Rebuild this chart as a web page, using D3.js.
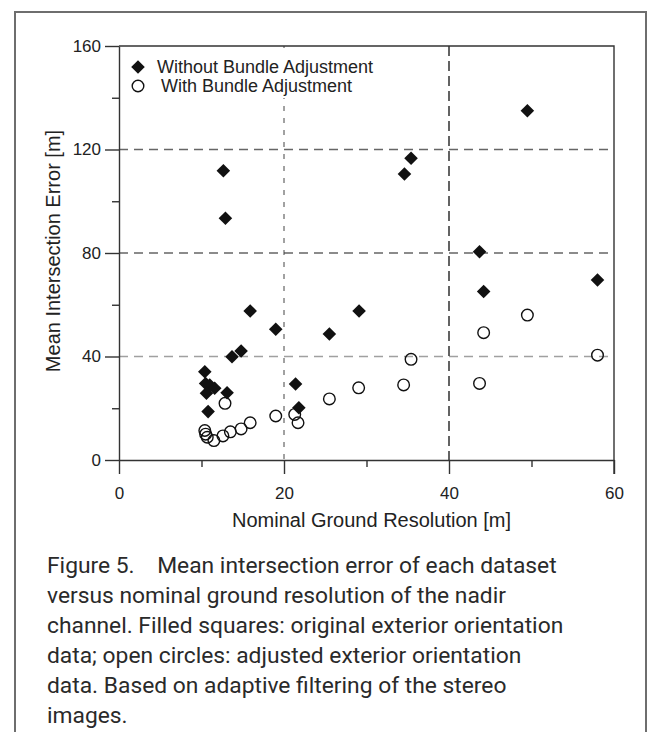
<!DOCTYPE html>
<html>
<head>
<meta charset="utf-8">
<script src="https://cdn.jsdelivr.net/npm/d3@7"></script>
<style>
  body { margin: 0; background: #fff; }
  svg { display: block; }
</style>
</head>
<body>
<svg id="chart"></svg>
<script>
// nominal ground resolution [m] / mean intersection error [m]
const withoutX = [10.4, 10.5, 11.0, 11.6, 10.6, 13.1, 10.8, 13.7, 14.8, 15.9, 19.0, 12.65, 12.9, 21.4, 21.8, 25.5, 29.1, 34.6, 35.4, 43.7, 44.2, 49.5, 58.0];
const withoutY = [34.1, 29.6, 29.0, 27.7, 25.8, 26.0, 18.7, 39.9, 42.1, 57.6, 50.5, 111.8, 93.4, 29.4, 20.2, 48.7, 57.6, 110.5, 116.6, 80.5, 65.1, 135.0, 69.6];
const withX = [12.85, 10.4, 10.5, 10.7, 11.5, 12.6, 13.5, 14.8, 15.9, 19.0, 21.3, 21.7, 25.5, 29.05, 34.5, 35.4, 43.7, 44.2, 49.5, 58.0];
const withY = [21.9, 11.4, 10.0, 8.8, 7.5, 9.3, 10.9, 12.0, 14.4, 17.0, 17.6, 14.4, 23.6, 27.9, 29.0, 38.9, 29.6, 49.2, 56.0, 40.5];
const xMajor = [0, 20, 40, 60];
const xMinor = [10, 30, 50];
const yMajor = [0, 40, 80, 120, 160];
const yMinor = [20, 60, 100, 140];
const legendLabels = ['Without Bundle Adjustment', 'With Bundle Adjustment'];
const caption = [
  'Figure 5.\u00a0\u00a0\u00a0 Mean intersection error of each dataset',
  'versus nominal ground resolution of the nadir',
  'channel. Filled squares: original exterior orientation',
  'data; open circles: adjusted exterior orientation',
  'data. Based on adaptive filtering of the stereo',
  'images.'
];

const W = 648, H = 732;
const svg = d3.select('#chart').attr('width', W).attr('height', H);
const font = 'Arial, "Liberation Sans", sans-serif';

// outer frame
svg.append('path')
  .attr('d', `M15,${H} V12 H646 V${H}`)
  .attr('fill', 'none').attr('stroke', '#6e6e6e').attr('stroke-width', 2);

const x = d3.scaleLinear().domain([0, 60]).range([119, 614]);
const y = d3.scaleLinear().domain([0, 160]).range([460, 46]);

// grid
svg.append('g').selectAll('line').data([40, 80, 120]).enter().append('line')
  .attr('x1', x(0)).attr('x2', x(60)).attr('y1', d => y(d)).attr('y2', d => y(d))
  .attr('stroke', d => d === 40 ? '#a0a0a0' : '#666').attr('stroke-width', 1.3)
  .attr('stroke-dasharray', '9,6');
svg.append('line')
  .attr('x1', x(20)).attr('x2', x(20)).attr('y1', y(160)).attr('y2', y(0))
  .attr('stroke', '#444').attr('stroke-width', 1).attr('stroke-dasharray', '5,7');
svg.append('line')
  .attr('x1', x(40)).attr('x2', x(40)).attr('y1', y(160)).attr('y2', y(0))
  .attr('stroke', '#222').attr('stroke-width', 1.4).attr('stroke-dasharray', '10,5');

// legend background hides the grid behind it
svg.append('rect').attr('x', x(0) + 2).attr('y', y(160) + 2).attr('width', 318).attr('height', 50).attr('fill', '#fff');

// points
const diamond = d3.symbol().type(d3.symbolSquare).size(92);
svg.append('g').selectAll('path').data(withoutX).enter().append('path')
  .attr('d', diamond)
  .attr('transform', (d, i) => `translate(${x(d)},${y(withoutY[i])}) rotate(45)`)
  .attr('fill', '#111');
svg.append('g').selectAll('circle').data(withX).enter().append('circle')
  .attr('cx', d => x(d)).attr('cy', (d, i) => y(withY[i])).attr('r', 5.8)
  .attr('fill', 'none').attr('stroke', '#111').attr('stroke-width', 1.4);

// axes
const axisStyle = g => {
  g.selectAll('path, line').attr('stroke', '#333').attr('stroke-width', 1.4);
  g.selectAll('text').attr('font-family', font).attr('font-size', 17).attr('fill', '#222');
};
svg.append('g').attr('transform', `translate(0,${y(0)})`)
  .call(d3.axisBottom(x).tickValues(xMajor).tickSize(14).tickSizeOuter(0).tickPadding(13).tickFormat(d3.format('d')))
  .call(axisStyle);
svg.append('g').attr('transform', `translate(0,${y(0)})`)
  .call(d3.axisBottom(x).tickValues(xMinor).tickSize(7).tickFormat(''))
  .call(axisStyle).select('.domain').remove();
svg.append('g').attr('transform', `translate(${x(0)},0)`)
  .call(d3.axisLeft(y).tickValues(yMajor).tickSize(14).tickSizeOuter(0).tickPadding(4).tickFormat(d3.format('d')))
  .call(axisStyle);
svg.append('g').attr('transform', `translate(${x(0)},0)`)
  .call(d3.axisLeft(y).tickValues(yMinor).tickSize(7).tickFormat(''))
  .call(axisStyle).select('.domain').remove();
// top and right border of the plot
svg.append('path')
  .attr('d', `M${x(0)},${y(160)} H${x(60)} V${y(0) + 14}`)
  .attr('fill', 'none').attr('stroke', '#333').attr('stroke-width', 1.4);

// axis titles
svg.append('text').attr('x', (x(0) + x(60)) / 2 + 5).attr('y', 527)
  .attr('text-anchor', 'middle').attr('font-family', font).attr('font-size', 20).attr('fill', '#222')
  .text('Nominal Ground Resolution [m]');
svg.append('text').attr('transform', `translate(60,${(y(0) + y(160)) / 2 - 2}) rotate(-90)`)
  .attr('text-anchor', 'middle').attr('font-family', font).attr('font-size', 20).attr('fill', '#222')
  .text('Mean Intersection Error [m]');

// legend
const legend = svg.append('g').attr('font-family', font).attr('font-size', 18).attr('fill', '#222');
legend.append('path').attr('d', diamond).attr('transform', 'translate(138,67) rotate(45)').attr('fill', '#111');
legend.append('circle').attr('cx', 138).attr('cy', 86).attr('r', 5.8)
  .attr('fill', 'none').attr('stroke', '#111').attr('stroke-width', 1.4);
legend.append('text').attr('x', 157).attr('y', 73).text(legendLabels[0]);
legend.append('text').attr('x', 161).attr('y', 92).text(legendLabels[1]);

// caption
svg.append('g').selectAll('text').data(caption).enter().append('text')
  .attr('x', 47).attr('y', (d, i) => 573 + i * 30)
  .attr('font-family', 'Roboto, sans-serif').attr('font-size', 22.8).attr('fill', '#2a2a2a')
  .text(d => d);
</script>
</body>
</html>
